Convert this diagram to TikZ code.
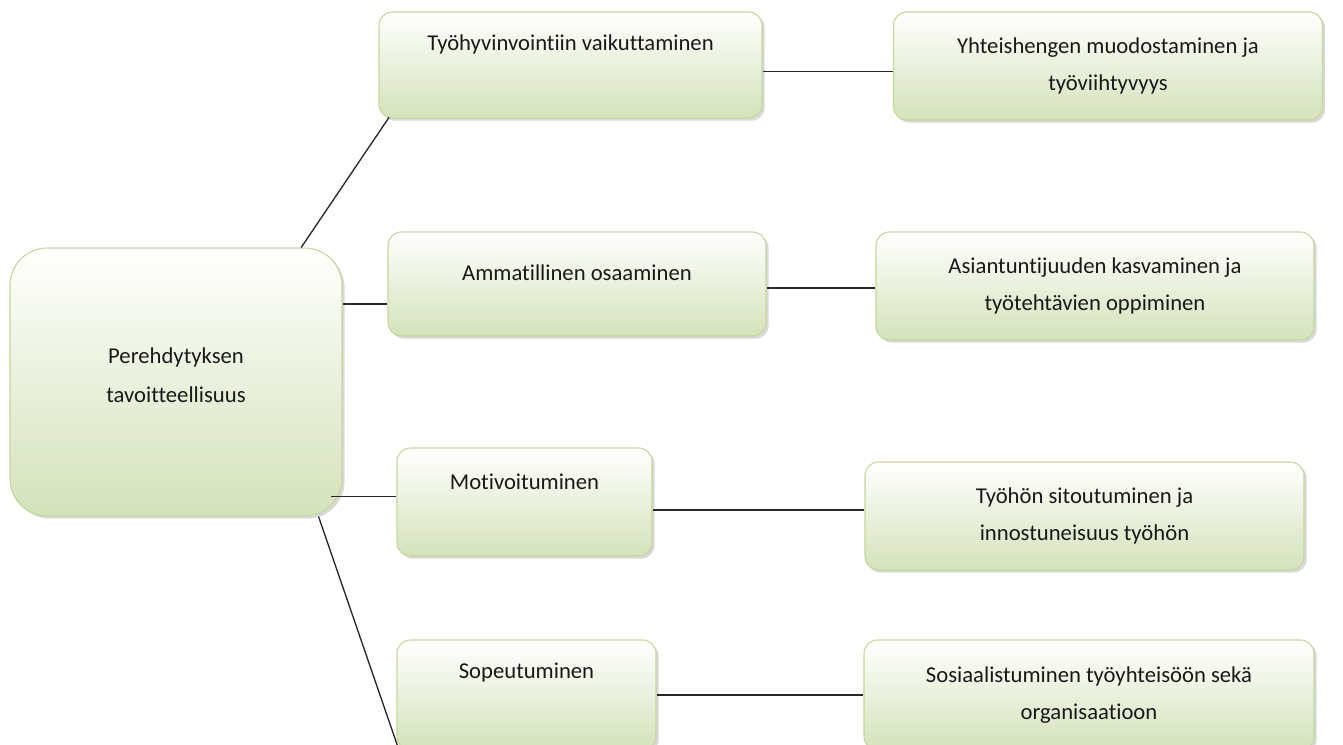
\documentclass[tikz,border=0pt]{standalone}
\usepackage{fontspec}
\setmainfont{Carlito}[Ligatures=NoCommon]
\usetikzlibrary{positioning, shadows, calc}
\definecolor{boxgreen}{RGB}{212,226,186}
\definecolor{boxline}{RGB}{196,215,155}
\definecolor{inktext}{RGB}{25,25,25}
\definecolor{linkgray}{RGB}{40,40,40}
\def\px{0.75pt}
\tikzset{
  goalbox/.style={draw=boxline, line width=0.8pt, rounded corners=10pt,
                  top color=white, bottom color=boxgreen,
                  drop shadow={shadow xshift=2pt, shadow yshift=-2pt, opacity=0.3},
                  align=center, text=inktext, inner sep=4pt,
                  font=\fontsize{17}{28}\selectfont},
  rootbox/.style={goalbox, rounded corners=28pt},
  boxtext/.style={text=inktext, align=center, font=\fontsize{17}{29}\selectfont, inner sep=0pt},
  link/.style={draw=linkgray, line width=1pt},
}
\begin{document}
\begin{tikzpicture}[x=\px, y=-\px]
\useasboundingbox (0,0) rectangle (1343,744);

% --- Root ---
\node[rootbox, minimum width=249pt, minimum height=201pt] (root) at (176, 382) {};
\node[boxtext] (root-t) at ([yshift=5pt]root.center) {Perehdytyksen\\tavoitteellisuus};

% --- Left column (goals) ---
\node[goalbox, minimum width=287.25pt, minimum height=79.5pt] (hyvinvointi) at (570.5, 65) {};
\node[goalbox, minimum width=283.5pt, minimum height=78pt] (osaaminen) at (577, 284) {};
\node[goalbox, minimum width=191.25pt, minimum height=81pt] (motivaatio) at (524.5, 502) {};
\node[goalbox, minimum width=194.25pt, minimum height=82.5pt] (sopeutus) at (526.5, 695) {};

\node[boxtext] (hyvinvointi-t) at ([yshift=-25pt]hyvinvointi.north) {Työhyvinvointiin vaikuttaminen};
\node[boxtext] (osaaminen-t) at ([yshift=-31pt]osaaminen.north) {Ammatillinen osaaminen};
\node[boxtext] (motivaatio-t) at ([yshift=-26pt]motivaatio.north) {Motivoituminen};
\node[boxtext] (sopeutus-t) at ([yshift=-25pt]sopeutus.north) {Sopeutuminen};

% --- Right column (outcomes) ---
\node[goalbox, minimum width=321.75pt, minimum height=81pt] (yhteishenki) at (1108, 66)
    {Yhteishengen muodostaminen ja\\työviihtyvyys};
\node[goalbox, minimum width=328.5pt, minimum height=81pt] (asiantuntijuus) at (1095, 286)
    {Asiantuntijuuden kasvaminen ja\\työtehtävien oppiminen};
\node[goalbox, minimum width=329.25pt, minimum height=81pt] (sitoutuminen) at (1084.5, 516)
    {Työhön sitoutuminen ja\\innostuneisuus työhön};
\node[goalbox, minimum width=337.5pt, minimum height=82.5pt] (sosiaalistuminen) at (1089, 695)
    {Sosiaalistuminen työyhteisöön sekä\\organisaatioon};

% --- Connectors ---
\draw[link] ([xshift=-31pt]root.north east) -- ([xshift=8pt, yshift=1pt]hyvinvointi.south west);
\draw[link] ([yshift=-15pt]osaaminen.west) -- ([yshift=-15pt]osaaminen.west -| root.east);
\draw[link] ([yshift=4pt]motivaatio.west) -- ([xshift=-9pt, yshift=4pt]motivaatio.west -| root.east);
\draw[link] ([xshift=-18pt]root.south east) -- ([xshift=2pt]sopeutus.south west);

\draw[link] ([yshift=-5pt]hyvinvointi.east) -- ([yshift=-5pt]hyvinvointi.east -| yhteishenki.west);
\draw[link] ([yshift=-3pt]osaaminen.east) -- ([yshift=-3pt]osaaminen.east -| asiantuntijuus.west);
\draw[link] ([yshift=-6pt]motivaatio.east) -- ([yshift=-6pt]motivaatio.east -| sitoutuminen.west);
\draw[link] (sopeutus.east) -- (sopeutus.east -| sosiaalistuminen.west);

\end{tikzpicture}
\end{document}
